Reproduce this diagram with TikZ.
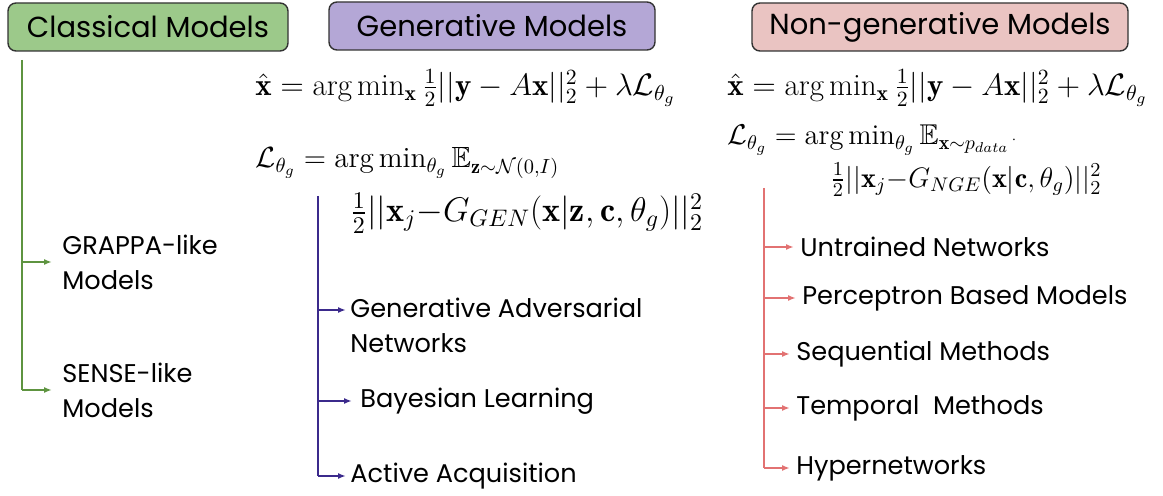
\documentclass[tikz,border=0pt]{standalone}
\usepackage{fix-cm}
\usepackage{amsmath,amssymb}
\usepackage{fontspec}
\setsansfont{Poppins}
\usetikzlibrary{arrows.meta}
\definecolor{classgreen}{HTML}{9CC98A}
\definecolor{genpurple}{HTML}{B4A7D6}
\definecolor{ngpink}{HTML}{EAC4C2}
\definecolor{greenline}{HTML}{5E9440}
\definecolor{purpleline}{HTML}{3B2A8C}
\definecolor{redline}{HTML}{E27272}
\begin{document}
\begin{tikzpicture}[x = 0.5pt, y = -0.5pt,
        head/.style = {draw = black!80, line width = 0.7pt, rounded corners = 4pt, minimum height = 24pt, font = \sffamily\fontsize{14.5}{17}\selectfont},
        item/.style = {anchor = west, align = left, inner sep = 0pt, font = \sffamily\fontsize{12.8}{17.5}\selectfont},
        eqn/.style = {anchor = west, inner sep = 0pt, font = \fontsize{15.5}{18}\selectfont},
        branch/.style = {line width = 0.9pt, -{Latex[length = 4pt, width = 3pt]}}]
        \useasboundingbox (0, 0) rectangle (1163, 496);

        \node[head, fill = classgreen, minimum width = 140pt] (classical) at (148, 27) {Classical Models};
        \node[head, fill = genpurple, minimum width = 163pt] (generative) at (492, 26) {Generative Models};
        \node[head, fill = ngpink, minimum width = 188pt] (nongen) at (940, 27) {Non-generative Models};

        \node[eqn] (geneq1) at (255, 88) {$\hat{\mathbf{x}} = \arg\min_{\mathbf{x}} \frac{1}{2}||\mathbf{y} - A\mathbf{x}||_2^2 + \lambda\mathcal{L}_{\theta_g}$};
        \node[eqn, font = \fontsize{14.6}{18}\selectfont] (geneq2) at (255, 163) {$\mathcal{L}_{\theta_g} = \arg\min_{\theta_g} \mathbb{E}_{\mathbf{z}\sim\mathcal{N}(0,I)}$};
        \node[eqn, font = \fontsize{17.1}{19}\selectfont] (geneq3) at (350, 213) {$\frac{1}{2}||\mathbf{x}_j{-}G_{GEN}(\mathbf{x}|\mathbf{z},\mathbf{c},\theta_g)||_2^2$};
        \node[eqn] (ngeq1) at (727, 88) {$\hat{\mathbf{x}} = \arg\min_{\mathbf{x}} \frac{1}{2}||\mathbf{y} - A\mathbf{x}||_2^2 + \lambda\mathcal{L}_{\theta_g}$};
        \node[eqn, font = \fontsize{14.3}{18}\selectfont] (ngeq2) at (727, 140) {$\mathcal{L}_{\theta_g} = \arg\min_{\theta_g} \mathbb{E}_{\mathbf{x}\sim p_{data}\,{}^{\cdot}}$};
        \node[eqn, font = \fontsize{14.1}{18}\selectfont] (ngeq3) at (830, 180) {$\frac{1}{2}||\mathbf{x}_j{-}G_{NGE}(\mathbf{x}|\mathbf{c},\theta_g)||_2^2$};

        \node[item] (grappa) at (62, 262) {GRAPPA-like\\Models};
        \node[item] (sense) at (62, 390) {SENSE-like\\Models};

        \node[item] (gan) at (350, 325) {Generative Adversarial\\Networks};
        \node[item] (bayes) at (360, 401) {Bayesian Learning};
        \node[item] (active) at (350, 476) {Active Acquisition};

        \node[item] (untrained) at (800, 247) {Untrained Networks};
        \node[item] (perceptron) at (802, 298) {Perceptron Based Models};
        \node[item] (sequential) at (796, 354) {Sequential Methods};
        \node[item] (temporal) at (796, 408) {Temporal\ \ Methods};
        \node[item] (hyper) at (796, 468) {Hypernetworks};

        \coordinate (ctop) at (22, 60);
        \coordinate (gtop) at (318, 196);
        \coordinate (ntop) at (764, 188);
        \coordinate (ganin) at (346, 310);

        \draw[greenline, line width = 0.9pt] (ctop) -- (ctop |- sense.west);
        \draw[greenline, branch] (ctop |- grappa.west) -- ([xshift = -5pt] grappa.west);
        \draw[greenline, branch] (ctop |- sense.west) -- ([xshift = -5pt] sense.west);

        \draw[purpleline, line width = 0.9pt] (gtop) -- (gtop |- active.west);
        \draw[purpleline, branch] (gtop |- ganin) -- (ganin);
        \draw[purpleline, branch] (gtop |- bayes.west) -- ([xshift = -4pt] bayes.west);
        \draw[purpleline, branch] (gtop |- active.west) -- ([xshift = -2pt] active.west);

        \draw[redline, line width = 0.9pt] (ntop) -- (ntop |- hyper.west);
        \foreach \n in {untrained, perceptron, sequential, temporal, hyper}
            \draw[redline, branch] (ntop |- \n.west) -- ([xshift = -3pt] \n.west);
    \end{tikzpicture}
\end{document}
